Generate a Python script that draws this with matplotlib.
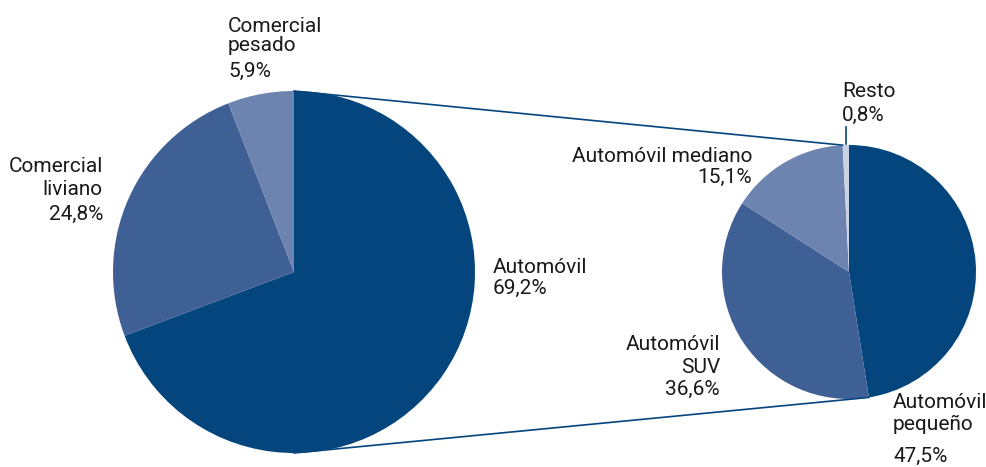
import matplotlib.pyplot as plt
import numpy as np

# Datos
tipos = ["Automóvil", "Comercial liviano", "Comercial pesado"]
tipos_pct = [69.2, 24.8, 5.9]

autos = ["Automóvil pequeño", "Automóvil SUV", "Automóvil mediano", "Resto"]
autos_pct = [47.5, 36.6, 15.1, 0.8]

colores_izq = ["#04457e", "#3f6094", "#6d84b0"]
colores_der = ["#04457e", "#3f6094", "#6d84b0", "#c9d1e4"]

W, H = 986, 467

plt.rcParams['font.family'] = ['Roboto', 'DejaVu Sans']

fig = plt.figure(figsize=(W / 100, H / 100), dpi=100)
ax = fig.add_axes([0, 0, 1, 1])


def py(y):
    # coordenadas de imagen (y hacia abajo) -> datos
    return H - y


c_izq = (294, py(272))
r_izq = 181
c_der = (849, py(272))
r_der = 127

ax.pie(tipos_pct, colors=colores_izq, startangle=90, counterclock=False,
       center=c_izq, radius=r_izq, wedgeprops=dict(linewidth=0))
ax.pie(autos_pct, colors=colores_der, startangle=90, counterclock=False,
       center=c_der, radius=r_der, wedgeprops=dict(linewidth=0))

# lineas de conexion
a_top = np.deg2rad(90 + autos_pct[3] / 100 * 360)
a_bot = np.deg2rad(90 - autos_pct[0] / 100 * 360)
ax.plot([c_izq[0], c_der[0] + r_der * np.cos(a_top)],
        [c_izq[1] + r_izq, c_der[1] + r_der * np.sin(a_top)],
        color="#04457e", lw=1.2)
ax.plot([c_izq[0], c_der[0] + r_der * np.cos(a_bot)],
        [c_izq[1] - r_izq, c_der[1] + r_der * np.sin(a_bot)],
        color="#04457e", lw=1.2)

# linea guia de "Resto"
xr = c_der[0] + r_der * np.cos(np.deg2rad(90 + autos_pct[3] / 200 * 360))
ax.plot([xr, xr], [py(127), py(144)], color="#04457e", lw=1.2)


def fmt(v):
    return f"{v:.1f}".replace(".", ",") + "%"


# etiquetas: (lineas, x, baselines, ha)
etiquetas = [
    (["Comercial", "pesado", fmt(tipos_pct[2])], 228, [32, 51, 77], "left"),
    (["Comercial", "liviano", fmt(tipos_pct[1])], 103, [172, 195, 220], "right"),
    (["Automóvil", fmt(tipos_pct[0])], 493, [273, 294], "left"),
    (["Automóvil mediano", fmt(autos_pct[2])], 752, [162, 183], "right"),
    (["Resto", fmt(autos_pct[3])], 842, [97, 121], "left"),
    (["Automóvil", "SUV", fmt(autos_pct[1])], 720, [350, 373, 395], "right"),
    (["Automóvil", "pequeño", fmt(autos_pct[0])], 893, [408, 430, 462], "left"),
]
for lineas, x, ys, ha in etiquetas:
    for t, y in zip(lineas, ys):
        ax.text(x, py(y), t, ha=ha, va="baseline", fontsize=15, color="#1a1a1a")

ax.set_xlim(0, W)
ax.set_ylim(0, H)
ax.set_aspect("auto")
ax.axis("off")

fig.savefig("out.png", dpi=100)
